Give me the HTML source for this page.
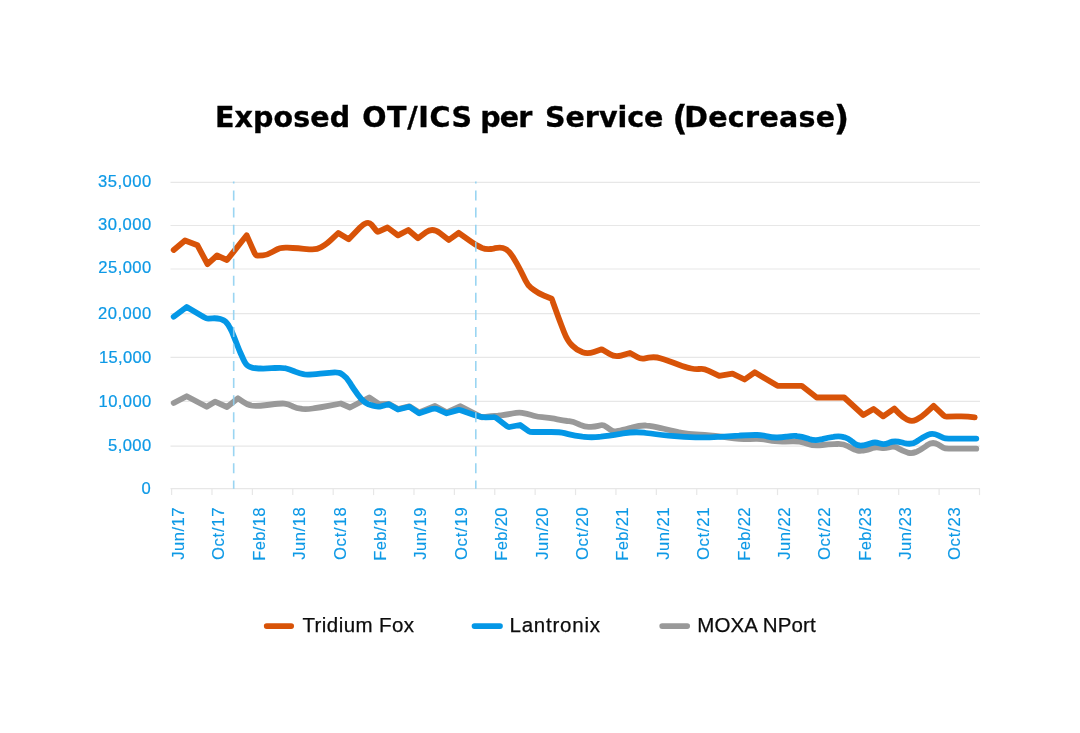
<!DOCTYPE html>
<html lang="en"><head><meta charset="utf-8"><title>Exposed OT/ICS per Service (Decrease)</title>
<style>
html,body{margin:0;padding:0;background:#fff;}
svg{display:block}
text{white-space:pre}
.t{font-family:"DejaVu Sans","Liberation Sans",sans-serif;font-weight:bold;font-size:28.5px;fill:#000;stroke:#000;stroke-width:0.35px}
.tp{font-size:32.9px}
.y{font-family:"Liberation Sans",sans-serif;font-size:16.6px;fill:#0d99e6;stroke:#0d99e6;stroke-width:0.22px}
.x{font-family:"Liberation Sans",sans-serif;font-size:16.6px;fill:#0d99e6;stroke:#0d99e6;stroke-width:0.15px}
.l{font-family:"Liberation Sans",sans-serif;font-size:20.5px;fill:#0c0c0c;stroke:#0c0c0c;stroke-width:0.25px}
.g{stroke:#e7e7e7;stroke-width:1.2;fill:none}
.s{fill:none;stroke-width:5.8;stroke-linecap:round;stroke-linejoin:round}
</style></head><body>
<svg width="1080" height="733" viewBox="0 0 1080 733">
<rect width="1080" height="733" fill="#fff"/>

<line class="g" x1="170.5" x2="980" y1="182.40" y2="182.40"/>
<line class="g" x1="170.5" x2="980" y1="225.50" y2="225.50"/>
<line class="g" x1="170.5" x2="980" y1="269.00" y2="269.00"/>
<line class="g" x1="170.5" x2="980" y1="313.70" y2="313.70"/>
<line class="g" x1="170.5" x2="980" y1="357.40" y2="357.40"/>
<line class="g" x1="170.5" x2="980" y1="401.40" y2="401.40"/>
<line class="g" x1="170.5" x2="980" y1="446.10" y2="446.10"/>
<line class="g" x1="170.5" x2="980" y1="488.60" y2="488.60"/>
<line class="g" x1="171.60" x2="171.60" y1="488.6" y2="495.1"/>
<line class="g" x1="212.00" x2="212.00" y1="488.6" y2="495.1"/>
<line class="g" x1="252.39" x2="252.39" y1="488.6" y2="495.1"/>
<line class="g" x1="292.78" x2="292.78" y1="488.6" y2="495.1"/>
<line class="g" x1="333.18" x2="333.18" y1="488.6" y2="495.1"/>
<line class="g" x1="373.57" x2="373.57" y1="488.6" y2="495.1"/>
<line class="g" x1="413.97" x2="413.97" y1="488.6" y2="495.1"/>
<line class="g" x1="454.37" x2="454.37" y1="488.6" y2="495.1"/>
<line class="g" x1="494.76" x2="494.76" y1="488.6" y2="495.1"/>
<line class="g" x1="535.15" x2="535.15" y1="488.6" y2="495.1"/>
<line class="g" x1="575.55" x2="575.55" y1="488.6" y2="495.1"/>
<line class="g" x1="615.94" x2="615.94" y1="488.6" y2="495.1"/>
<line class="g" x1="656.34" x2="656.34" y1="488.6" y2="495.1"/>
<line class="g" x1="696.74" x2="696.74" y1="488.6" y2="495.1"/>
<line class="g" x1="737.13" x2="737.13" y1="488.6" y2="495.1"/>
<line class="g" x1="777.52" x2="777.52" y1="488.6" y2="495.1"/>
<line class="g" x1="817.92" x2="817.92" y1="488.6" y2="495.1"/>
<line class="g" x1="858.31" x2="858.31" y1="488.6" y2="495.1"/>
<line class="g" x1="898.71" x2="898.71" y1="488.6" y2="495.1"/>
<line class="g" x1="939.10" x2="939.10" y1="488.6" y2="495.1"/>
<line class="g" x1="979.50" x2="979.50" y1="488.6" y2="495.1"/>
<text class="t" x="215.01" y="126.90" letter-spacing="0.097">Exposed</text>
<text class="t" x="362.26" y="126.90" letter-spacing="0.646">OT/ICS</text>
<text class="t" x="480.16" y="126.90" letter-spacing="-0.845">per</text>
<text class="t" x="545.03" y="126.90" letter-spacing="-0.009">Service</text>
<text class="t tp" x="672.46" y="129.80">(</text>
<text class="t" x="684.20" y="126.90" letter-spacing="0.317">Decrease</text>
<text class="t tp" x="834.03" y="129.80">)</text>
<text class="y" x="97.93" y="186.80" letter-spacing="0.513">35,000</text>
<text class="y" x="97.93" y="229.90" letter-spacing="0.513">30,000</text>
<text class="y" x="98.36" y="273.20" letter-spacing="0.416">25,000</text>
<text class="y" x="97.95" y="319.10" letter-spacing="0.510">20,000</text>
<text class="y" x="98.97" y="362.90" letter-spacing="0.314">15,000</text>
<text class="y" x="98.60" y="406.70" letter-spacing="0.395">10,000</text>
<text class="y" x="108.11" y="451.30" letter-spacing="0.397">5,000</text>
<text class="y" x="141.47" y="494.00">0</text>
<text class="x" transform="translate(184.00,559.83) rotate(-90)" letter-spacing="0.506">Jun/17</text>
<text class="x" transform="translate(224.40,560.11) rotate(-90)" letter-spacing="0.761">Oct/17</text>
<text class="x" transform="translate(264.79,560.65) rotate(-90)" letter-spacing="0.291">Feb/18</text>
<text class="x" transform="translate(305.18,559.83) rotate(-90)" letter-spacing="0.528">Jun/18</text>
<text class="x" transform="translate(345.58,560.11) rotate(-90)" letter-spacing="0.783">Oct/18</text>
<text class="x" transform="translate(385.97,560.65) rotate(-90)" letter-spacing="0.275">Feb/19</text>
<text class="x" transform="translate(426.37,559.83) rotate(-90)" letter-spacing="0.512">Jun/19</text>
<text class="x" transform="translate(466.76,560.11) rotate(-90)" letter-spacing="0.767">Oct/19</text>
<text class="x" transform="translate(507.16,560.65) rotate(-90)" letter-spacing="0.277">Feb/20</text>
<text class="x" transform="translate(547.55,559.83) rotate(-90)" letter-spacing="0.514">Jun/20</text>
<text class="x" transform="translate(587.95,560.11) rotate(-90)" letter-spacing="0.769">Oct/20</text>
<text class="x" transform="translate(628.34,560.65) rotate(-90)" letter-spacing="0.269">Feb/21</text>
<text class="x" transform="translate(668.74,559.83) rotate(-90)" letter-spacing="0.506">Jun/21</text>
<text class="x" transform="translate(709.13,560.11) rotate(-90)" letter-spacing="0.761">Oct/21</text>
<text class="x" transform="translate(749.53,560.65) rotate(-90)" letter-spacing="0.269">Feb/22</text>
<text class="x" transform="translate(789.92,559.83) rotate(-90)" letter-spacing="0.506">Jun/22</text>
<text class="x" transform="translate(830.32,560.11) rotate(-90)" letter-spacing="0.761">Oct/22</text>
<text class="x" transform="translate(870.71,560.65) rotate(-90)" letter-spacing="0.291">Feb/23</text>
<text class="x" transform="translate(911.11,559.83) rotate(-90)" letter-spacing="0.527">Jun/23</text>
<text class="x" transform="translate(959.90,560.11) rotate(-90)" letter-spacing="0.782">Oct/23</text>
<text class="l" x="302.44" y="631.90" letter-spacing="0.422">Tridium Fox</text>
<text class="l" x="509.49" y="631.90" letter-spacing="0.770">Lantronix</text>
<text class="l" x="697.29" y="631.90" letter-spacing="0.113">MOXA NPort</text>
<path class="s" stroke="#999999" d="M173.7,403.0 L186.7,396.2 L206.7,406.7 L215.0,401.7 L227.0,407.0 L238.0,398.3 L243.2,401.8 Q246.7,404.2 250.0,405.1 L251.3,405.5 Q255.0,406.5 267.0,405.0 L271.0,404.5 Q281.7,403.2 284.3,403.6 L285.7,403.8 Q288.3,404.2 291.7,405.8 L293.3,406.7 Q296.7,408.3 300.7,408.7 L302.2,408.9 Q306.7,409.3 312.7,408.5 L314.7,408.2 Q320.0,407.5 328.3,405.9 L340.8,403.5 L350.0,407.5 L369.2,397.5 L379.2,404.2 L388.7,403.8 L398.0,409.0 L409.2,406.3 L419.2,412.5 L435.0,406.0 L446.7,412.3 L460.5,406.2 L481.7,417.3 L491.0,416.2 Q495.0,415.8 498.0,415.6 L501.0,415.3 Q505.0,415.0 510.3,413.9 L512.3,413.5 Q518.3,412.3 522.1,412.9 L523.3,413.1 Q526.7,413.7 531.3,415.0 L533.7,415.7 Q538.3,417.0 542.3,417.2 L544.3,417.3 Q548.3,417.5 554.3,418.7 L557.3,419.3 Q563.3,420.5 567.3,421.0 L569.3,421.2 Q573.3,421.7 578.0,423.8 L580.3,424.9 Q585.0,427.0 589.0,426.9 L591.0,426.8 Q595.0,426.7 598.3,425.9 L600.8,425.3 Q603.3,424.7 606.3,426.8 L610.3,429.6 Q613.3,431.7 615.8,431.3 L618.3,430.9 Q621.7,430.3 629.0,428.3 L631.8,427.6 Q640.0,425.3 645.3,425.5 L646.4,425.6 Q651.7,425.8 660.7,428.1 L663.7,428.8 Q671.7,430.8 678.3,432.2 L681.7,432.8 Q688.3,434.2 696.3,434.5 L700.3,434.7 Q708.3,435.0 721.7,436.7 L728.3,437.5 Q741.7,439.2 749.7,439.0 L755.7,438.8 Q761.7,438.7 765.7,439.6 L769.7,440.5 Q775.0,441.7 785.0,441.5 L792.5,441.4 Q800.0,441.3 804.0,442.7 L808.0,444.0 Q813.3,445.8 819.3,445.3 L822.3,445.0 Q828.3,444.5 834.3,444.2 L837.3,444.0 Q843.3,443.7 848.0,446.2 L850.3,447.5 Q855.0,450.0 857.0,450.4 L857.8,450.6 Q860.0,451.1 863.5,450.5 L864.3,450.4 Q867.8,449.8 871.3,448.5 L872.5,448.1 Q875.6,447.0 879.2,447.6 L881.0,447.9 Q884.6,448.5 888.5,447.5 L890.5,446.9 Q894.4,445.9 897.8,448.0 L899.0,448.8 Q902.8,451.1 906.9,452.3 L907.8,452.6 Q911.9,453.8 915.9,452.0 L916.9,451.6 Q920.9,449.8 926.2,446.0 L927.3,445.1 Q932.6,441.3 938.1,444.6 L943.4,447.8 Q944.9,448.7 948.7,448.7 L976.3,448.7"/>
<path class="s" stroke="#0497e6" d="M173.7,316.7 L186.7,307.0 L203.7,317.0 Q206.7,318.8 208.2,318.7 L212.7,318.3 Q216.7,318.0 220.3,319.1 L221.7,319.5 Q225.8,320.8 228.5,325.3 L229.9,327.8 Q231.7,330.8 233.9,336.6 L237.7,346.2 Q239.2,350.0 240.5,353.0 L243.2,359.0 Q245.8,365.0 248.8,366.3 L249.9,366.8 Q253.3,368.3 258.6,368.5 L260.3,368.5 Q265.0,368.7 271.7,368.2 L275.0,368.0 Q281.7,367.5 284.7,368.2 L286.2,368.5 Q289.2,369.2 293.5,371.0 L295.7,371.9 Q300.0,373.7 303.3,374.2 L305.0,374.5 Q308.3,375.0 320.3,373.7 L329.3,372.8 Q338.3,371.8 340.8,373.5 L342.9,374.9 Q346.7,377.5 349.7,382.4 L351.3,385.1 Q353.3,388.3 355.8,391.8 L357.9,394.7 Q361.7,400.0 364.7,402.1 L365.3,402.6 Q368.3,404.7 372.8,405.7 L375.3,406.3 Q378.3,407.0 381.4,406.2 L388.7,404.2 L398.0,409.5 L409.2,406.7 L419.2,413.3 L431.8,409.1 Q435.0,408.0 437.3,409.1 L446.7,413.3 L457.9,410.1 Q459.2,409.7 461.4,410.5 L474.9,415.2 Q481.7,417.5 485.7,417.4 L493.7,417.1 Q495.0,417.0 496.3,418.0 L507.0,426.2 Q508.3,427.2 509.5,427.0 L520.0,425.0 L529.0,431.3 Q530.0,432.0 533.0,432.0 L551.0,432.0 Q560.0,432.0 564.5,433.1 L568.2,434.1 Q575.0,435.8 582.5,436.7 L584.2,436.8 Q591.7,437.7 599.2,436.8 L600.8,436.7 Q608.3,435.8 620.3,433.9 L623.0,433.4 Q635.0,431.5 644.0,432.7 L646.0,433.0 Q655.0,434.2 668.5,435.6 L671.5,435.8 Q685.0,437.2 695.5,437.3 L697.8,437.4 Q708.3,437.5 718.1,436.9 L720.2,436.8 Q730.0,436.2 739.0,435.7 L741.0,435.5 Q750.0,435.0 755.3,435.0 L757.0,435.0 Q761.7,435.0 765.7,436.0 L767.2,436.4 Q771.7,437.5 776.2,437.5 L777.2,437.5 Q781.7,437.5 786.2,436.7 L787.2,436.6 Q791.7,435.8 796.2,436.0 L797.2,436.1 Q801.7,436.3 807.7,438.4 L809.0,438.9 Q815.0,441.0 821.0,439.4 L822.3,439.1 Q828.3,437.5 833.6,436.9 L834.7,436.7 Q840.0,436.1 843.7,437.1 L844.6,437.3 Q848.3,438.3 851.3,441.0 L852.0,441.5 Q855.0,444.2 857.2,445.0 L857.8,445.1 Q860.0,445.9 862.9,445.4 L863.6,445.3 Q866.5,444.9 870.3,443.5 L871.1,443.2 Q874.9,441.8 879.0,443.2 L879.9,443.6 Q884.0,445.0 888.7,443.0 L889.7,442.5 Q894.4,440.5 902.3,442.5 L904.0,443.0 Q911.9,445.0 916.5,441.6 L918.1,440.5 Q922.2,437.5 926.4,435.6 L927.9,434.9 Q932.6,432.8 938.1,435.4 L943.4,437.9 Q944.9,438.6 948.7,438.6 L976.3,438.6"/>
<path class="s" stroke="#d85308" d="M173.7,250.0 L185.0,240.5 L197.5,245.3 L207.5,264.2 L217.0,255.5 L227.0,260.0 L246.7,235.3 L254.4,252.7 Q255.8,255.8 257.6,255.7 L262.8,255.3 Q267.5,255.0 272.5,251.9 L275.0,250.4 Q280.0,247.3 287.3,247.7 L292.8,248.0 Q298.3,248.3 303.8,248.8 L309.3,249.3 Q316.7,250.0 321.0,247.3 L324.3,245.3 Q327.5,243.3 330.7,240.2 L338.3,233.0 L348.7,239.2 L360.0,227.6 Q367.5,219.8 371.5,224.7 L376.5,230.8 Q377.5,232.0 378.5,231.6 L387.5,227.5 L398.0,235.3 L408.3,230.0 L418.0,238.3 L426.0,232.2 Q432.5,227.3 439.8,233.0 L448.8,240.0 L458.7,232.8 L470.7,241.3 Q475.8,245.0 479.1,246.5 L481.8,247.8 Q486.7,250.0 493.4,248.6 L494.9,248.2 Q501.7,246.8 505.4,249.0 L506.3,249.5 Q510.0,251.7 514.5,259.6 L517.0,263.9 Q520.0,269.2 522.3,274.0 L525.5,280.5 Q527.8,285.3 530.9,287.7 L534.1,290.1 Q538.3,293.3 543.7,295.5 L551.7,298.7 L558.3,317.1 Q560.0,321.7 561.5,325.5 L564.1,332.2 Q567.5,340.8 571.6,344.9 L572.6,345.9 Q576.7,350.0 581.6,351.8 L582.6,352.2 Q587.5,354.0 593.9,351.9 L601.7,349.3 L609.7,354.1 Q615.0,357.3 621.0,355.6 L630.0,353.0 L637.6,357.3 Q640.8,359.2 645.1,358.4 L648.6,357.7 Q655.0,356.5 661.0,358.4 L664.3,359.5 Q668.3,360.8 673.5,362.8 L678.8,364.8 Q685.8,367.5 689.5,368.2 L691.3,368.5 Q695.0,369.2 698.7,369.0 L701.4,368.8 Q704.2,368.7 708.7,370.8 L719.2,375.8 L732.5,373.7 L744.6,379.5 L754.7,372.3 L777.5,385.8 L801.7,385.8 L816.7,397.5 L844.2,397.5 L863.3,415.0 L873.6,409.0 L883.2,416.4 L894.3,408.6 L899.0,413.4 Q902.9,417.4 906.9,419.5 L907.9,419.9 Q911.9,422.0 915.9,419.9 L917.3,419.2 Q920.9,417.4 926.0,412.8 L933.6,405.8 L943.8,415.7 Q944.9,416.8 946.8,416.7 L956.2,416.4 Q963.7,416.1 968.1,416.6 L974.7,417.4"/>
<line x1="233.7" x2="233.7" y1="181.5" y2="488.8" stroke="#8fd0f1" stroke-opacity="0.9" stroke-width="1.6" stroke-dasharray="10 7.05" stroke-dashoffset="8"/>
<line x1="475.8" x2="475.8" y1="181.5" y2="488.8" stroke="#8fd0f1" stroke-opacity="0.9" stroke-width="1.6" stroke-dasharray="10 7.05" stroke-dashoffset="8"/>
<line x1="266.7" x2="291.2" y1="626.1" y2="626.1" stroke="#d85308" stroke-width="5.7" stroke-linecap="round"/>
<line x1="474.5" x2="500" y1="626.1" y2="626.1" stroke="#0497e6" stroke-width="5.7" stroke-linecap="round"/>
<line x1="662.2" x2="687.2" y1="626.1" y2="626.1" stroke="#999999" stroke-width="5.7" stroke-linecap="round"/>
</svg></body></html>
